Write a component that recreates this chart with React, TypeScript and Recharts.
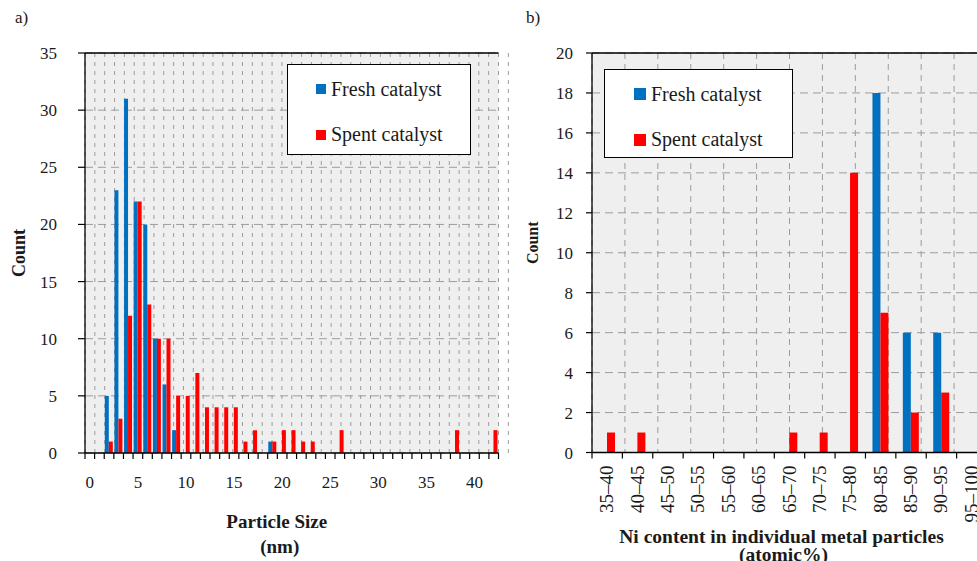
import React from "react";
import {
  BarChart,
  Bar,
  XAxis,
  YAxis,
  CartesianGrid,
  Legend,
  ReferenceLine,
} from "recharts";

// a) particle size histogram, one bin per nm
const sizeBins = [
  0, 1, 2, 3, 4, 5, 6, 7, 8, 9, 10, 11, 12, 13, 14, 15, 16, 17, 18, 19, 20,
  21, 22, 23, 24, 25, 26, 27, 28, 29, 30, 31, 32, 33, 34, 35, 36, 37, 38, 39,
  40, 41, 42,
];
const freshBySize = [
  0, 0, 5, 23, 31, 22, 20, 10, 6, 2, 0, 0, 0, 0, 0, 0, 0, 0, 0, 1, 0,
  0, 0, 0, 0, 0, 0, 0, 0, 0, 0, 0, 0, 0, 0, 0, 0, 0, 0, 0,
  0, 0, 0,
];
const spentBySize = [
  0, 0, 1, 3, 12, 22, 13, 10, 10, 5, 5, 7, 4, 4, 4, 4, 1, 2, 0, 1, 2,
  2, 1, 1, 0, 0, 2, 0, 0, 0, 0, 0, 0, 0, 0, 0, 0, 0, 2, 0,
  0, 0, 2,
];
const sizeYTicks = [0, 5, 10, 15, 20, 25, 30, 35];

// b) Ni content histogram
const niBins = [
  "35–40", "40–45", "45–50", "50–55", "55–60", "60–65", "65–70",
  "70–75", "75–80", "80–85", "85–90", "90–95", "95–100",
];
const freshByNi = [0, 0, 0, 0, 0, 0, 0, 0, 0, 18, 6, 6, 0];
const spentByNi = [1, 1, 0, 0, 0, 0, 1, 1, 14, 7, 2, 3, 0];
const niYTicks = [0, 2, 4, 6, 8, 10, 12, 14, 16, 18, 20];

const FRESH = "#0070C0";
const SPENT = "#FF0000";
const FONT = "'Liberation Serif', 'Times New Roman', serif";
const INK = "#1a1a1a";
const GRID = "#9c9c9c";

const sizeData = sizeBins.map((b, i) => ({ bin: b, fresh: freshBySize[i], spent: spentBySize[i] }));
const niData = niBins.map((b, i) => ({ bin: b, fresh: freshByNi[i], spent: spentByNi[i] }));

// bin edges for the dashed vertical grid (grid sits between categories)
const sizeEdges = sizeBins.map((_, i) => i).concat(sizeBins.length);
const niEdges = niBins.map((_, i) => i).concat(niBins.length);

// eslint-disable-next-line @typescript-eslint/no-explicit-any
function SizeTick({ x, y, payload, index }: any) {
  const half = payload?.offset ?? 4.8;
  const last = index === sizeBins.length - 1;
  return (
    <g>
      <line x1={x - half} x2={x - half} y1={y} y2={y + 6} stroke="#000" strokeWidth={1.2} />
      {last && <line x1={x + half} x2={x + half} y1={y} y2={y + 6} stroke="#000" strokeWidth={1.2} />}
      {payload.value % 5 === 0 && (
        <text x={x} y={y + 35} textAnchor="middle" fontSize={17} fontFamily={FONT} fill={INK}>
          {payload.value}
        </text>
      )}
    </g>
  );
}

// eslint-disable-next-line @typescript-eslint/no-explicit-any
function NiTick({ x, y, payload, index }: any) {
  const half = payload?.offset ?? 15.2;
  const last = index === niBins.length - 1;
  return (
    <g>
      <line x1={x - half} x2={x - half} y1={y} y2={y + 6} stroke="#000" strokeWidth={1.2} />
      {last && <line x1={x + half} x2={x + half} y1={y} y2={y + 6} stroke="#000" strokeWidth={1.2} />}
      <text
        transform={`translate(${x + 6}, ${y + 13}) rotate(-90)`}
        textAnchor="end"
        fontSize={19}
        fontFamily={FONT}
        fill={INK}
      >
        {payload.value}
      </text>
    </g>
  );
}

// eslint-disable-next-line @typescript-eslint/no-explicit-any
function LegendBox({ payload, markerLeft, marker }: any) {
  return (
    <div
      style={{
        position: "relative",
        width: "100%",
        height: "100%",
        boxSizing: "border-box",
        border: "1.5px solid #000",
        background: "#fff",
        fontFamily: FONT,
        color: INK,
      }}
    >
      {(payload ?? []).map((p: { value: string; color: string }, i: number) => (
        <div
          key={p.value}
          style={{
            position: "absolute",
            left: markerLeft,
            top: 24 + i * 45.5 - 12,
            height: 24,
            display: "flex",
            alignItems: "center",
            fontSize: 20,
            whiteSpace: "nowrap",
          }}
        >
          <span style={{ display: "inline-block", width: marker, height: marker, background: p.color, marginRight: 5 }} />
          {p.value}
        </div>
      ))}
    </div>
  );
}

const axisLine = { stroke: "#000", strokeWidth: 1.3 };
const tickFont = { fontSize: 17, fontFamily: FONT, fill: INK };

function SizeChart() {
  return (
    <BarChart
      width={520}
      height={561}
      data={sizeData}
      margin={{ top: 53, right: 21.5, left: 5, bottom: 68 }}
      barCategoryGap="6%"
      barGap={0}
    >
      <CartesianGrid xAxisId="grid" horizontal={false} stroke={GRID} strokeDasharray="4 5" fill="#efefef" />
      <CartesianGrid xAxisId="grid" vertical={false} stroke={GRID} strokeDasharray="8 5" />
      <XAxis
        xAxisId="cat"
        dataKey="bin"
        type="category"
        height={40}
        interval={0}
        tickSize={0}
        tickMargin={0}
        tickLine={false}
        axisLine={axisLine}
        tick={<SizeTick />}
        label={{
          // eslint-disable-next-line @typescript-eslint/no-explicit-any
          content: ({ viewBox }: any) => {
            const cx = viewBox.x + viewBox.width / 2 - 15;
            return (
              <g fontFamily={FONT} fontWeight="bold" fontSize={19} fill={INK} textAnchor="middle">
                <text x={cx} y={viewBox.y + 75}>Particle Size</text>
                <text x={cx + 3} y={viewBox.y + 100}>(nm)</text>
              </g>
            );
          },
        }}
      />
      <XAxis
        xAxisId="grid"
        type="number"
        domain={[0, sizeBins.length]}
        ticks={sizeEdges}
        interval={0}
        allowDataOverflow
        hide
      />
      <YAxis
        width={80}
        domain={[0, 35]}
        ticks={sizeYTicks}
        tickSize={7}
        tickMargin={21}
        tickLine={{ stroke: "#000", strokeWidth: 1.2 }}
        axisLine={axisLine}
        tick={tickFont}
        label={{
          // eslint-disable-next-line @typescript-eslint/no-explicit-any
          content: ({ viewBox }: any) => (
            <text
              transform={`translate(${viewBox.x + 14}, ${viewBox.y + viewBox.height / 2}) rotate(-90)`}
              textAnchor="middle"
              dominantBaseline="central"
              fontFamily={FONT}
              fontWeight="bold"
              fontSize={18}
              fill={INK}
            >
              Count
            </text>
          ),
        }}
      />
      <ReferenceLine xAxisId="cat" y={35} stroke="#000" strokeWidth={1.3} />
      <ReferenceLine xAxisId="grid" x={sizeBins.length} stroke="#000" strokeWidth={1.3} />
      <Legend
        layout="vertical"
        align="center"
        verticalAlign="middle"
        wrapperStyle={{ left: 287, top: 64, width: 184, height: 91 }}
        content={(props) => <LegendBox payload={props.payload} markerLeft={28} marker={10} />}
      />
      <Bar xAxisId="cat" dataKey="fresh" name="Fresh catalyst" fill={FRESH} isAnimationActive={false} />
      <Bar xAxisId="cat" dataKey="spent" name="Spent catalyst" fill={SPENT} isAnimationActive={false} />
    </BarChart>
  );
}

function NiChart() {
  return (
    <BarChart
      width={480}
      height={561}
      data={niData}
      margin={{ top: 53, right: 13, left: 5, bottom: 68.5 }}
      barCategoryGap="23%"
      barGap={0}
    >
      <CartesianGrid xAxisId="grid" horizontal={false} stroke={GRID} strokeDasharray="6 5" fill="#efefef" />
      <CartesianGrid xAxisId="grid" vertical={false} stroke={GRID} strokeDasharray="8 5" />
      <XAxis
        xAxisId="cat"
        dataKey="bin"
        type="category"
        height={40}
        interval={0}
        tickSize={0}
        tickMargin={0}
        tickLine={false}
        axisLine={axisLine}
        tick={<NiTick />}
        label={{
          // eslint-disable-next-line @typescript-eslint/no-explicit-any
          content: ({ viewBox }: any) => {
            const cx = viewBox.x + viewBox.width / 2 - 8;
            return (
              <g fontFamily={FONT} fontWeight="bold" fontSize={19.5} fill={INK} textAnchor="middle">
                <text x={cx} y={viewBox.y + 90.5}>Ni content in individual metal particles</text>
                <text x={cx + 2} y={viewBox.y + 108.5}>(atomic%)</text>
              </g>
            );
          },
        }}
      />
      <XAxis
        xAxisId="grid"
        type="number"
        domain={[0, niBins.length]}
        ticks={niEdges}
        interval={0}
        allowDataOverflow
        hide
      />
      <YAxis
        width={67}
        domain={[0, 20]}
        ticks={niYTicks}
        tickSize={6}
        tickMargin={13}
        tickLine={{ stroke: "#000", strokeWidth: 1.2 }}
        axisLine={axisLine}
        tick={tickFont}
        label={{
          // eslint-disable-next-line @typescript-eslint/no-explicit-any
          content: ({ viewBox }: any) => (
            <text
              transform={`translate(${viewBox.x + 7}, ${viewBox.y + viewBox.height / 2 - 10}) rotate(-90)`}
              textAnchor="middle"
              dominantBaseline="central"
              fontFamily={FONT}
              fontWeight="bold"
              fontSize={16}
              fill={INK}
            >
              Count
            </text>
          ),
        }}
      />
      <ReferenceLine xAxisId="cat" y={20} stroke="#000" strokeWidth={1.3} />
      <Legend
        layout="vertical"
        align="center"
        verticalAlign="middle"
        wrapperStyle={{ left: 84, top: 69, width: 189, height: 89 }}
        content={(props) => <LegendBox payload={props.payload} markerLeft={29} marker={12} />}
      />
      <Bar xAxisId="cat" dataKey="fresh" name="Fresh catalyst" fill={FRESH} isAnimationActive={false} />
      <Bar xAxisId="cat" dataKey="spent" name="Spent catalyst" fill={SPENT} isAnimationActive={false} />
    </BarChart>
  );
}

export default function App() {
  return (
    <div
      style={{
        position: "fixed",
        left: 0,
        top: 0,
        width: 977,
        height: 561,
        overflow: "hidden",
        background: "#fff",
        fontFamily: FONT,
      }}
    >
      <div style={{ position: "absolute", left: 15, top: 8, fontSize: 17, color: INK }}>a)</div>
      <div style={{ position: "absolute", left: 526, top: 8, fontSize: 17, color: INK }}>b)</div>
      <div style={{ position: "absolute", left: 0, top: 0 }}>
        <SizeChart />
      </div>
      <div style={{ position: "absolute", left: 520, top: 0 }}>
        <NiChart />
      </div>
    </div>
  );
}
